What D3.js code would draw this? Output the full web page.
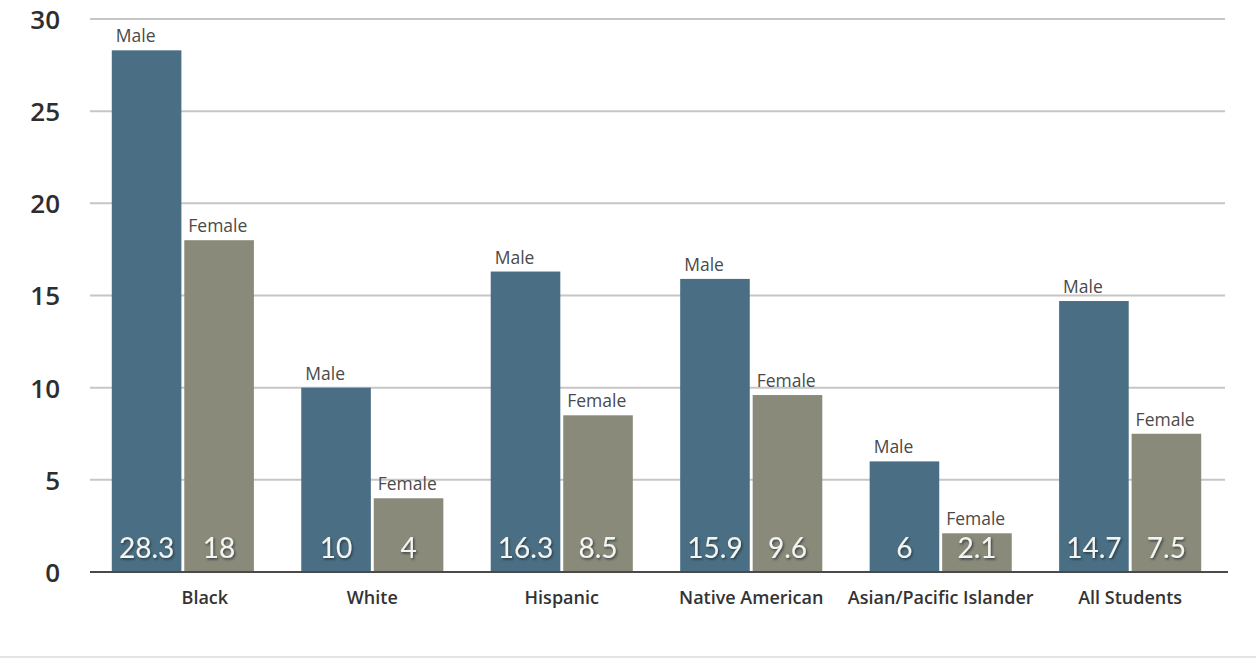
<!DOCTYPE html>
<html>
<head>
<meta charset="utf-8">
<script src="https://d3js.org/d3.v7.min.js"></script>
<style>
  html, body { margin: 0; padding: 0; background: #fff; }
  svg { display: block; }
</style>
</head>
<body>
<svg id="chart" width="1256" height="660"></svg>
<script>
const categories = ["Black", "White", "Hispanic", "Native American", "Asian/Pacific Islander", "All Students"];
const series = ["Male", "Female"];
const maleValues = [28.3, 10, 16.3, 15.9, 6, 14.7];
const femaleValues = [18, 4, 8.5, 9.6, 2.1, 7.5];
const yTicks = [0, 5, 10, 15, 20, 25, 30];

const colors = { Male: "#4a6f84", Female: "#8a8a7a" };
const font = "'Open Sans', Lato, sans-serif";
const valueFont = "Lato, 'Open Sans', sans-serif";

const svg = d3.select("#chart");
const W = 1256, H = 660;
const plot = { left: 90, right: 1223, top: 19, bottom: 572 };

const x0 = d3.scaleBand()
  .domain(categories)
  .range([plot.left, plot.right])
  .paddingInner(0.25)
  .paddingOuter(0.115);

const x1 = d3.scaleBand()
  .domain(series)
  .range([0, x0.bandwidth()])
  .paddingInner(0.04);

const y = d3.scaleLinear().domain([0, 30]).range([plot.bottom, plot.top]);

const rows = categories.map((c, i) => ({
  category: c,
  values: [
    { key: "Male", value: maleValues[i] },
    { key: "Female", value: femaleValues[i] }
  ]
}));

// text shadow for the in-bar values
const defs = svg.append("defs");
const f = defs.append("filter").attr("id", "shadow").attr("x", "-20%").attr("y", "-20%").attr("width", "140%").attr("height", "140%");
f.append("feDropShadow").attr("dx", 1.2).attr("dy", 1.5).attr("stdDeviation", 1).attr("flood-color", "#1c2a33").attr("flood-opacity", 0.75);

// y axis labels
const yAxis = d3.axisLeft(y).tickValues(yTicks).tickSize(0).tickPadding(0);
const gAxis = svg.append("g").attr("transform", `translate(${plot.left},0)`).call(yAxis);
gAxis.select(".domain").remove();
gAxis.selectAll("text")
  .attr("x", -30)
  .attr("dy", "0.36em")
  .attr("text-anchor", "end")
  .style("font-family", font)
  .style("font-size", "26px")
  .style("font-weight", 600)
  .attr("fill", "#2e2e2e");

// horizontal gridlines
svg.append("g").selectAll("line")
  .data(yTicks.filter(t => t > 0))
  .join("line")
  .attr("x1", plot.left).attr("x2", plot.right + 2)
  .attr("y1", d => y(d)).attr("y2", d => y(d))
  .attr("stroke", "#c6c6c6").attr("stroke-width", 2);

// bars
const groups = svg.append("g").selectAll("g")
  .data(rows)
  .join("g")
  .attr("transform", d => `translate(${x0(d.category)},0)`);

groups.selectAll("rect")
  .data(d => d.values)
  .join("rect")
  .attr("x", d => x1(d.key))
  .attr("y", d => y(d.value))
  .attr("width", x1.bandwidth())
  .attr("height", d => y(0) - y(d.value))
  .attr("fill", d => colors[d.key]);

// series names above each bar
groups.selectAll("text.series")
  .data(d => d.values)
  .join("text")
  .attr("class", "series")
  .attr("x", d => x1(d.key) + 4)
  .attr("y", d => y(d.value) - 8)
  .text(d => d.key)
  .style("font-family", font)
  .style("font-size", "17.5px")
  .attr("fill", "#4a4a4a");

// values at the foot of each bar
groups.selectAll("text.value")
  .data(d => d.values)
  .join("text")
  .attr("class", "value")
  .attr("x", d => x1(d.key) + x1.bandwidth() / 2)
  .attr("y", y(0) - 14)
  .attr("text-anchor", "middle")
  .text(d => d.value)
  .style("font-family", valueFont)
  .style("font-size", "28px")
  .attr("fill", "#f4f4f0")
  .attr("filter", "url(#shadow)");

// baseline
svg.append("line")
  .attr("x1", plot.left).attr("x2", plot.right + 5)
  .attr("y1", y(0)).attr("y2", y(0))
  .attr("stroke", "#4a4a4a").attr("stroke-width", 2);

// category labels ("Black" sits a little right of its group centre)
const labelShift = { Black: 22 };
svg.append("g").selectAll("text")
  .data(categories)
  .join("text")
  .attr("x", d => x0(d) + x0.bandwidth() / 2 + (labelShift[d] || 0))
  .attr("y", 604)
  .attr("text-anchor", "middle")
  .text(d => d)
  .style("font-family", font)
  .style("font-size", "18px")
  .style("font-weight", 600)
  .attr("fill", "#333");

// faint page edge at the bottom
svg.append("line")
  .attr("x1", 0).attr("x2", W)
  .attr("y1", 657).attr("y2", 657)
  .attr("stroke", "#e4e4e4").attr("stroke-width", 2);
</script>
</body>
</html>
